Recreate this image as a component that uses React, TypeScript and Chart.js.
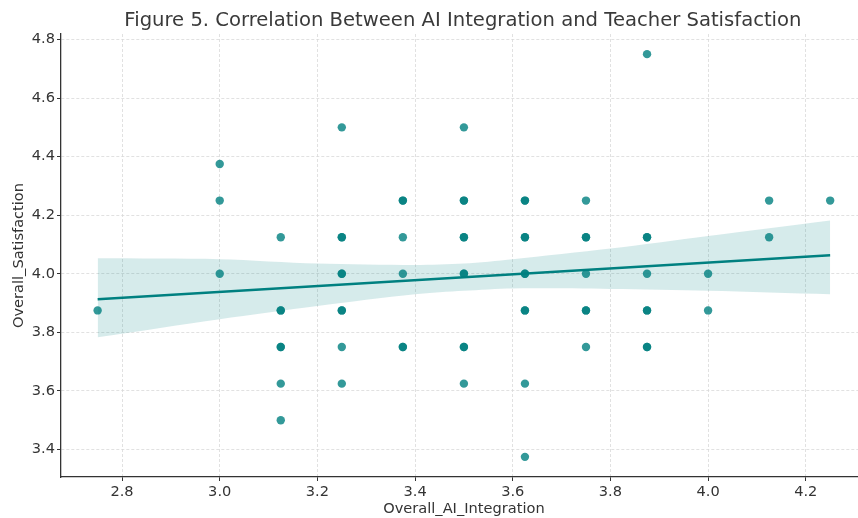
import React, { useEffect, useRef } from 'react';
import { Chart, registerables } from 'chart.js';

Chart.register(...registerables);

const TITLE = 'Figure 5. Correlation Between AI Integration and Teacher Satisfaction';
const X_LABEL = 'Overall_AI_Integration';
const Y_LABEL = 'Overall_Satisfaction';

const xTicks = [2.8, 3.0, 3.2, 3.4, 3.6, 3.8, 4.0, 4.2];
const yTicks = [3.4, 3.6, 3.8, 4.0, 4.2, 4.4, 4.6, 4.8];

// Observations (repeated pairs are overlapping respondents, which show darker)
const integration = [
  2.75,
  3.0, 3.0, 3.0,
  3.125, 3.125, 3.125, 3.125, 3.125, 3.125, 3.125,
  3.25, 3.25, 3.25, 3.25, 3.25, 3.25, 3.25, 3.25, 3.25,
  3.375, 3.375, 3.375, 3.375, 3.375, 3.375,
  3.5, 3.5, 3.5, 3.5, 3.5, 3.5, 3.5, 3.5, 3.5, 3.5,
  3.625, 3.625, 3.625, 3.625, 3.625, 3.625, 3.625, 3.625, 3.625, 3.625,
  3.75, 3.75, 3.75, 3.75, 3.75, 3.75, 3.75,
  3.875, 3.875, 3.875, 3.875, 3.875, 3.875, 3.875, 3.875,
  4.0, 4.0,
  4.125, 4.125,
  4.25,
];
const satisfaction = [
  3.875,
  4.375, 4.25, 4.0,
  4.125, 3.875, 3.875, 3.75, 3.75, 3.625, 3.5,
  4.5, 4.125, 4.125, 4.0, 4.0, 3.875, 3.875, 3.75, 3.625,
  4.25, 4.25, 4.125, 4.0, 3.75, 3.75,
  4.5, 4.25, 4.25, 4.125, 4.125, 4.0, 4.0, 3.75, 3.75, 3.625,
  4.25, 4.25, 4.125, 4.125, 4.0, 4.0, 3.875, 3.875, 3.625, 3.375,
  4.25, 4.125, 4.125, 4.0, 3.875, 3.875, 3.75,
  4.75, 4.125, 4.125, 4.0, 3.875, 3.875, 3.75, 3.75,
  4.0, 3.875,
  4.25, 4.125,
  4.25,
];

// Regression line and its confidence band
const fitX = [2.75, 4.25];
const fitY = [3.9135, 4.0633];

const bandX = [2.75, 3.0, 3.2, 3.4, 3.5, 3.6, 3.8, 4.0, 4.25];
const bandUpper = [4.053, 4.05, 4.035, 4.03, 4.035, 4.05, 4.086, 4.129, 4.182];
const bandLower = [3.783, 3.845, 3.89, 3.93, 3.942, 3.95, 3.948, 3.942, 3.93];

const TEAL = 'rgb(0,128,128)';
const FONT = '"DejaVu Sans", "Liberation Sans", sans-serif';
const TEXT = '#333333';
const LABEL_SIZE = 14.6;

const titlePlugin = {
  id: 'figTitle',
  afterDraw(chart: any) {
    const { ctx, chartArea } = chart;
    ctx.save();
    ctx.font = `19.6px ${FONT}`;
    ctx.fillStyle = '#3a3a3a';
    ctx.textAlign = 'center';
    ctx.textBaseline = 'middle';
    ctx.fillText(TITLE, (chartArea.left + chartArea.right) / 2 - 1, 21);
    ctx.restore();
  },
};

export default function App() {
  const ref = useRef<HTMLCanvasElement | null>(null);

  useEffect(() => {
    document.body.style.margin = '0';
    const canvas = ref.current;
    if (!canvas) return;

    const points = integration.map((x, i) => ({ x, y: satisfaction[i] }));
    const fit = fitX.map((x, i) => ({ x, y: fitY[i] }));
    const upper = bandX.map((x, i) => ({ x, y: bandUpper[i] }));
    const lower = bandX.map((x, i) => ({ x, y: bandLower[i] }));

    const axisCommon = (min: number, max: number, ticks: number[]) => ({
      type: 'linear' as const,
      min,
      max,
      afterBuildTicks: (s: any) => {
        s.ticks = ticks.map((v) => ({ value: v }));
      },
      ticks: {
        callback: (v: any) => Number(v).toFixed(1),
        font: { family: FONT, size: LABEL_SIZE },
        color: TEXT,
        padding: 2,
        autoSkip: false,
        maxRotation: 0,
      },
      grid: {
        color: '#d9d9d9',
        lineWidth: 0.8,
        tickLength: 4,
        tickColor: '#333333',
        tickWidth: 1,
      },
      border: {
        display: true,
        color: '#333333',
        width: 1.3,
        dash: [3, 2],
      },
    });

    const chart = new Chart(canvas, {
      type: 'scatter',
      data: {
        datasets: [
          {
            type: 'line',
            label: 'fit',
            data: fit,
            borderColor: TEAL,
            borderWidth: 2.5,
            pointRadius: 0,
            fill: false,
            order: 0,
          } as any,
          {
            type: 'line',
            label: 'upper',
            data: upper,
            borderWidth: 0,
            borderColor: 'rgba(0,0,0,0)',
            backgroundColor: 'rgba(0,128,128,0.16)',
            pointRadius: 0,
            fill: '+1',
            tension: 0.3,
            order: 1,
          } as any,
          {
            type: 'line',
            label: 'lower',
            data: lower,
            borderWidth: 0,
            borderColor: 'rgba(0,0,0,0)',
            pointRadius: 0,
            fill: false,
            tension: 0.3,
            order: 1,
          } as any,
          {
            type: 'scatter',
            label: 'obs',
            data: points,
            backgroundColor: 'rgba(0,128,128,0.8)',
            borderWidth: 0,
            pointRadius: 4.2,
            order: 2,
          } as any,
        ],
      },
      options: {
        animation: false,
        responsive: false,
        devicePixelRatio: 1,
        layout: { padding: { top: 34, left: 0, right: 0, bottom: 0 } },
        plugins: {
          legend: { display: false },
          tooltip: { enabled: false },
          title: { display: false },
        },
        scales: {
          x: {
            ...axisCommon(2.675, 4.325, xTicks),
            afterFit: (s: any) => {
              s.height = 41;
            },
            title: {
              display: true,
              text: X_LABEL,
              font: { family: FONT, size: LABEL_SIZE },
              color: TEXT,
              padding: { top: 0, bottom: 0 },
            },
          },
          y: {
            ...axisCommon(3.30625, 4.81875, yTicks),
            afterFit: (s: any) => {
              s.width = 61;
            },
            title: {
              display: true,
              text: Y_LABEL,
              font: { family: FONT, size: LABEL_SIZE },
              color: TEXT,
              padding: { top: 10, bottom: 0 },
            },
          },
        },
      },
      plugins: [titlePlugin],
    } as any);

    return () => chart.destroy();
  }, []);

  return (
    <div style={{ position: 'absolute', left: 0, top: 0, width: 858, height: 518, overflow: 'hidden', background: '#fff' }}>
      <canvas ref={ref} width={871} height={518} style={{ display: 'block' }} />
    </div>
  );
}
